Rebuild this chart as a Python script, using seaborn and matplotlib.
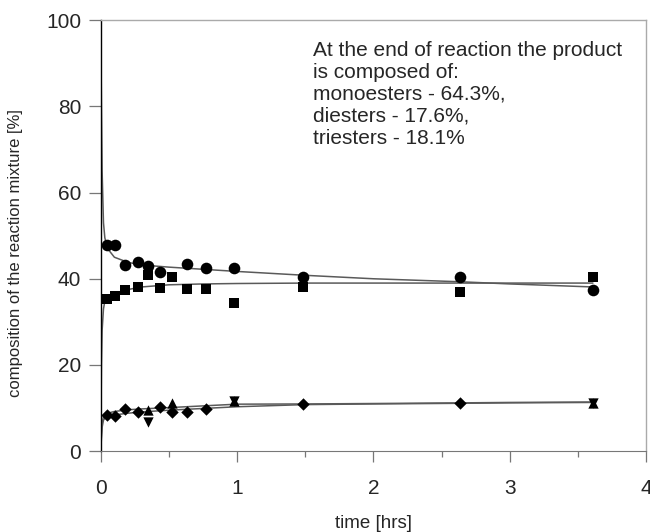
import numpy as np
import pandas as pd
import seaborn as sns
import matplotlib.pyplot as plt
from matplotlib.ticker import MultipleLocator

# sampling times [hrs]
times = [0.044, 0.103, 0.181, 0.270, 0.349, 0.433, 0.523, 0.631, 0.773, 0.974, 1.481, 2.636, 3.607]

# measured points (NaN where no marker is seen)
circles = [47.8, 47.8, 43.2, 43.8, 43.0, 41.5, np.nan, 43.5, 42.6, 42.5, 40.4, 40.4, 37.4]
squares = [35.3, 36.0, 37.4, 38.1, 40.8, 37.9, 40.4, 37.7, 37.7, 34.4, 38.0, 37.0, 40.3]
diamonds = [8.35, 8.1, 9.7, 9.0, np.nan, 10.3, 9.0, 9.0, 9.7, np.nan, 10.9, 11.2, np.nan]
tri_up = [np.nan, np.nan, np.nan, np.nan, 9.5, np.nan, 11.1, np.nan, np.nan, 11.7, np.nan, np.nan, 11.1]
tri_down = [np.nan, np.nan, np.nan, np.nan, 6.8, np.nan, np.nan, np.nan, np.nan, 11.7, np.nan, np.nan, 11.1]

# fitted curves
curve_t = [0, 0.005, 0.01, 0.02, 0.03, 0.05, 0.1, 0.2, 0.3, 0.5, 0.75, 1.0, 1.5, 2.0, 2.64, 3.0, 3.61]
curve_circ = [100, 80, 65, 53, 49.5, 47, 45, 43.8, 43.2, 42.7, 42.2, 41.7, 40.8, 40.0, 39.3, 38.8, 38.1]
curve_sq = [0, 20, 28, 33, 34.8, 35.8, 36.5, 37.5, 38.1, 38.6, 38.8, 38.9, 39.0, 39.0, 39.0, 39.0, 39.0]
curve_hi = [0, 4, 6.5, 8, 8.4, 8.8, 9.2, 9.6, 9.8, 10.1, 10.5, 10.9, 10.95, 11.05, 11.2, 11.3, 11.4]
curve_lo = [0, 3, 5.5, 7.2, 7.6, 8.0, 8.4, 8.8, 9.1, 9.5, 9.9, 10.3, 10.8, 10.95, 11.1, 11.2, 11.3]

note = ("At the end of reaction the product\nis composed of:\n"
        "monoesters - 64.3%,\ndiesters - 17.6%,\ntriesters - 18.1%")

sns.set_style("white")
plt.rcParams["font.family"] = ["Liberation Sans", "DejaVu Sans"]

fig = plt.figure(figsize=(6.5, 5.32), dpi=100)
ax = fig.add_axes([0.155, 0.152, 0.839, 0.810])

line_kw = dict(color="#5a5a5a", linewidth=1.1, ax=ax)
for c in [curve_circ, curve_sq, curve_hi, curve_lo]:
    sns.lineplot(x=curve_t, y=c, **line_kw)

pts = pd.DataFrame({"t": times, "circ": circles, "sq": squares, "dia": diamonds,
                    "up": tri_up, "down": tri_down})
mk = dict(color="black", edgecolor="black", linewidth=0, ax=ax, zorder=3)
sns.scatterplot(data=pts, x="t", y="circ", marker="o", s=70, **mk)
sns.scatterplot(data=pts, x="t", y="sq", marker="s", s=50, **mk)
sns.scatterplot(data=pts, x="t", y="dia", marker="D", s=40, **mk)
sns.scatterplot(data=pts, x="t", y="up", marker="^", s=55, **mk)
sns.scatterplot(data=pts, x="t", y="down", marker="v", s=55, **mk)

ax.set_xlim(0, 4)
ax.set_ylim(0, 100)
ax.xaxis.set_major_locator(MultipleLocator(1))
ax.xaxis.set_minor_locator(MultipleLocator(0.5))
ax.yaxis.set_major_locator(MultipleLocator(20))

ax.spines["left"].set_color("black")
ax.spines["left"].set_linewidth(1.0)
ax.spines["bottom"].set_color("#777777")
for s in ["top", "right"]:
    ax.spines[s].set_color("#aaaaaa")
    ax.spines[s].set_linewidth(1.0)

ax.tick_params(axis="y", direction="out", length=9, width=0.9, color="#777777",
               labelsize=15, pad=5, left=True)
ax.tick_params(axis="x", which="major", direction="out", length=8, width=0.9,
               color="#777777", labelsize=15, pad=12, bottom=True)
ax.tick_params(axis="x", which="minor", direction="out", length=4, width=0.9,
               color="#777777", bottom=True)

ax.set_xlabel("time [hrs]", fontsize=13.5, labelpad=12)
ax.set_ylabel("composition of the reaction mixture [%]", fontsize=12)
ax.yaxis.set_label_coords(-0.143, 0.46)

ax.text(0.389, 0.952, note, transform=ax.transAxes, fontsize=15,
        va="top", ha="left", linespacing=1.2)

plt.savefig("out.png", dpi=100)
